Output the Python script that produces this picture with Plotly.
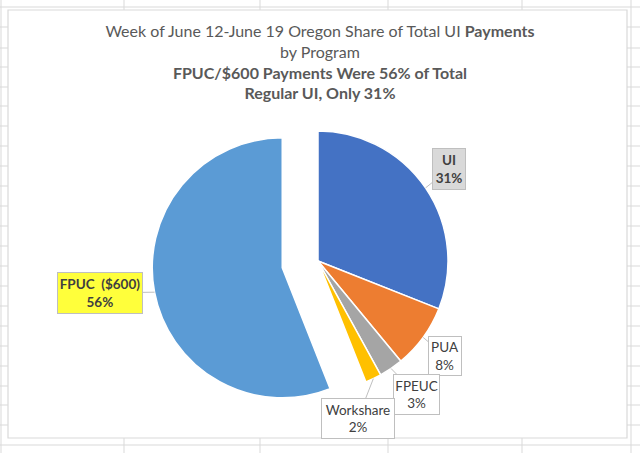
import math
import plotly.graph_objects as go

# data
programs = ["UI", "PUA", "FPEUC", "Workshare", "FPUC  ($600)"]
shares = [31, 8, 3, 2, 56]
colors = ["#4472C4", "#ED7D31", "#A5A5A5", "#FFC000", "#5B9BD5"]
pulls = [0, 0, 0, 0, 0.28]

W, H = 640, 453

# pie geometry in pixels
cx, cy, r = 318, 261, 130
half = r * (1 + max(pulls))


def px(x):
    return x / W


def py(y):
    return 1 - y / H


fig = go.Figure()

fig.add_trace(go.Pie(
    labels=programs,
    values=shares,
    sort=False,
    direction="clockwise",
    rotation=0,
    pull=pulls,
    marker=dict(colors=colors, line=dict(color="white", width=1.5)),
    textinfo="none",
    hoverinfo="label+percent",
    showlegend=False,
    domain=dict(x=[px(cx - half), px(cx + half)], y=[py(cy + half), py(cy - half)]),
))

# spreadsheet grid behind the chart
shapes = []
for gy in [7, 27, 48, 67, 87, 106, 126, 146, 166, 186, 206, 226, 246, 266,
           286, 306, 326, 346, 366, 386, 405, 425, 445]:
    shapes.append(dict(type="line", xref="paper", yref="paper", x0=0, x1=1,
                       y0=py(gy), y1=py(gy), line=dict(color="#D9D9D9", width=1), layer="below"))
for gx in [1, 124, 260, 388, 522, 631]:
    shapes.append(dict(type="line", xref="paper", yref="paper", x0=px(gx), x1=px(gx),
                       y0=0, y1=1, line=dict(color="#D9D9D9", width=1), layer="below"))
# chart area
shapes.append(dict(type="rect", xref="paper", yref="paper", x0=px(8), x1=px(627),
                   y0=py(438), y1=py(10), fillcolor="white",
                   line=dict(color="#D9D9D9", width=1.2), layer="below"))

# callout boxes: (center x, center y, width, height, bg, bold)
boxes = {
    "UI": (449, 169, 34, 42, "#D9D9D9", True),
    "PUA": (445, 356, 34, 40, "white", False),
    "FPEUC": (416, 394, 47, 41, "white", False),
    "Workshare": (358, 418, 74, 41, "white", False),
    "FPUC  ($600)": (100, 293, 86, 42, "#FFFF3B", True),
}

annotations = []
total = sum(shares)
start = 0
for lab, val, pl in zip(programs, shares, pulls):
    mid = (start + val / 2) / total * 2 * math.pi
    start += val
    ox = cx + pl * r * math.sin(mid)
    oy = cy - pl * r * math.cos(mid)
    tx = ox + r * math.sin(mid)
    ty = oy - r * math.cos(mid)
    bx, by, bw, bh, bg, bold = boxes[lab]
    pct = f"{round(val / total * 100)}%"
    text = f"<b>{lab}<br>{pct}</b>" if bold else f"{lab}<br>{pct}"
    annotations.append(dict(
        x=px(tx), y=py(ty), xref="paper", yref="paper",
        ax=bx - tx, ay=by - ty, axref="pixel", ayref="pixel",
        text=text, showarrow=True, arrowhead=0, arrowwidth=1, arrowcolor="#BFBFBF",
        bgcolor=bg, bordercolor="#BFBFBF", borderwidth=1, borderpad=0,
        width=bw - 2, height=bh - 2,
        font=dict(family="Lato", size=13.5, color="#404040"),
    ))

fig.update_layout(
    width=W, height=H,
    margin=dict(l=0, r=0, t=0, b=0),
    paper_bgcolor="white",
    plot_bgcolor="white",
    shapes=shapes,
    annotations=annotations,
    title=dict(
        text="Week of June 12-June 19 Oregon Share of Total UI <b>Payments</b><br>by Program<br>"
             "<b>FPUC/$600 Payments Were 56% of Total</b><br><b>Regular UI, Only 31%</b>",
        x=0.5, xanchor="center", y=py(37), yanchor="middle", yref="container",
        font=dict(family="Lato", size=16, color="#595959"),
    ),
)

# drop the default page margin so the figure sits at the window corner
fig.write_html("out.html", config={"displayModeBar": False},
               post_script="document.body.style.margin='0';")
